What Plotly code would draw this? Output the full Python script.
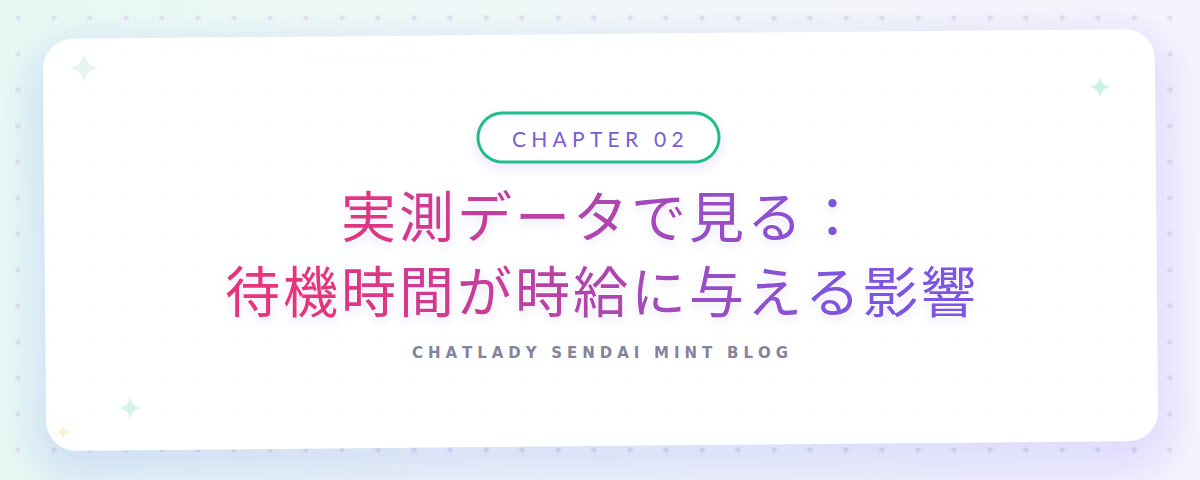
import numpy as np
import plotly.graph_objects as go

W, H = 1200, 480

chapter_label = "CHAPTER 02"
title_lines = ["実測データで見る：", "待機時間が時給に与える影響"]
subtitle = "CHATLADY SENDAI MINT BLOG"

# decorative sparkles (x, y, half size, colour)
sparkle_x = [84, 1100, 130, 63]
sparkle_y = [68, 87, 408, 432]
sparkle_r = [14, 10, 11, 7]
sparkle_c = ["#e6f4f1", "#c9f1e0", "#d6f3ec", "#fbf1d2"]

PINK = (230, 52, 125)
PURPLE = (124, 86, 224)


def rounded_rect(cx, cy, w, h, r, ang_deg=0.0, n=12):
    pts = []
    corners = [(w/2 - r, -h/2 + r, -90, 0), (w/2 - r, h/2 - r, 0, 90),
               (-w/2 + r, h/2 - r, 90, 180), (-w/2 + r, -h/2 + r, 180, 270)]
    for ox, oy, a0, a1 in corners:
        for a in np.radians(np.linspace(a0, a1, n)):
            pts.append((ox + r*np.cos(a), oy + r*np.sin(a)))
    th = np.radians(ang_deg)
    out = [(cx + x*np.cos(th) - y*np.sin(th), cy + x*np.sin(th) + y*np.cos(th)) for x, y in pts]
    return "M " + " L ".join(f"{x:.2f},{y:.2f}" for x, y in out) + " Z"


def sparkle(cx, cy, r):
    k = r*0.14
    return (f"M {cx},{cy-r} Q {cx+k},{cy-k} {cx+r},{cy} Q {cx+k},{cy+k} {cx},{cy+r} "
            f"Q {cx-k},{cy+k} {cx-r},{cy} Q {cx-k},{cy-k} {cx},{cy-r} Z")


def grad_color(x):
    t = min(max((x - 330) / 520, 0), 1)
    c = [round(a + (b - a)*t) for a, b in zip(PINK, PURPLE)]
    return f"rgb({c[0]},{c[1]},{c[2]})"


fig = go.Figure()

# background wash
fig.add_trace(go.Scatter(
    x=[0, W, W, 0, 0], y=[0, 0, H, H, 0], mode="lines", fill="toself",
    line=dict(width=0), hoverinfo="skip", showlegend=False,
    fillgradient=dict(type="horizontal",
                      colorscale=[[0, "#e6f8f3"], [0.45, "#f0f7f8"], [1, "#f5f2fd"]]),
))

# dot grid
gx, gy = np.meshgrid(np.arange(18, W, 36), np.arange(18, H, 36))
fig.add_trace(go.Scatter(
    x=gx.ravel(), y=gy.ravel(), mode="markers", hoverinfo="skip", showlegend=False,
    marker=dict(size=5.5, color="#e0e2ee", line=dict(width=0)),
))

shapes = []
CARD = dict(cx=600.5, cy=240, w=1112, h=412, r=30, ang_deg=-0.52)

# soft lavender shadow under the card
for k in range(10):
    e = 3 + 5*k
    shapes.append(dict(type="path", layer="above", line=dict(width=0),
                       fillcolor="rgba(140,120,235,0.016)",
                       path=rounded_rect(CARD["cx"], CARD["cy"] + 18, CARD["w"] + 2*e - 20,
                                         CARD["h"] + 2*e - 20, CARD["r"] + e, CARD["ang_deg"])))

shapes.append(dict(type="path", layer="above", line=dict(width=0),
                   fillcolor="rgba(255,255,255,0.975)", path=rounded_rect(**CARD)))

for x, y, r, c in zip(sparkle_x, sparkle_y, sparkle_r, sparkle_c):
    shapes.append(dict(type="path", layer="above", line=dict(width=0), fillcolor=c,
                       path=sparkle(x, y, r)))

# chapter pill
for k in range(5):
    e = 1 + 2*k
    shapes.append(dict(type="path", layer="above", line=dict(width=0),
                       fillcolor="rgba(140,110,230,0.02)",
                       path=rounded_rect(598.5, 142, 241 + 2*e, 49 + 2*e, 24.5 + e)))
shapes.append(dict(type="path", layer="above", fillcolor="white",
                   line=dict(color="#1fbf8b", width=3),
                   path=rounded_rect(598.5, 137.5, 241, 49, 24.5)))

annotations = [dict(
    x=598, y=138, xref="x", yref="y", showarrow=False,
    text="\u2005".join(chapter_label),
    font=dict(family="Lato, Open Sans, sans-serif", size=21, color="#7a5cd6"),
)]

# gradient title, one annotation per glyph
adv = 58
for line, yc in zip(title_lines, [213, 288]):
    x0 = 600 - len(line)*adv/2
    for i, ch in enumerate(line):
        xc = x0 + adv*(i + 0.5)
        annotations.append(dict(
            x=xc, y=yc, xref="x", yref="y", showarrow=False, text=ch,
            font=dict(family="Noto Sans CJK JP", size=55, color=grad_color(xc),
                      shadow="0 0 3px #fff, 0 0 3px #fff, 0 4px 10px rgba(150,120,220,0.2)"),
        ))

annotations.append(dict(
    x=600, y=353, xref="x", yref="y", showarrow=False,
    text="\u2004".join(subtitle).replace("\u2004 \u2004", "\u2004\u2004\u2004"),
    font=dict(family="DejaVu Sans", size=15, color="#86839c", weight="bold"),
))

fig.update_layout(
    width=W, height=H, margin=dict(l=0, r=0, t=0, b=0),
    paper_bgcolor="#eef7f6", plot_bgcolor="rgba(0,0,0,0)",
    xaxis=dict(range=[0, W], visible=False, fixedrange=True),
    yaxis=dict(range=[H, 0], visible=False, fixedrange=True),
    shapes=shapes, annotations=annotations, showlegend=False,
)

fig.write_html("out.html", config={"displayModeBar": False},
               post_script="document.body.style.margin='0';")
